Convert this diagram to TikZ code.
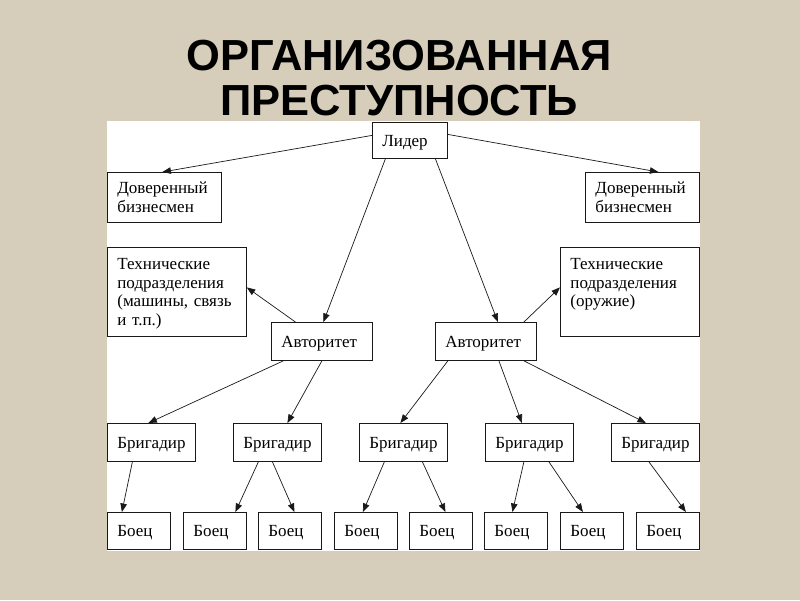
\documentclass[tikz,border=0pt]{standalone}
\usepackage{fontspec}
\setmainfont{Liberation Serif}
\newfontfamily\titlefont{Liberation Sans}
\usepackage{tikz}
\usetikzlibrary{arrows.meta,positioning}
\usepackage{xcolor}
\definecolor{ocbeige}{RGB}{214,205,186}
\definecolor{ocline}{RGB}{25,25,25}
\tikzstyle{box} = [rectangle, anchor=north west, draw=ocline, fill=white, line width=0.8pt, align=left, inner xsep=10pt, inner ysep=0pt, text height=11.5pt, text depth=0pt, font=\fontsize{17}{18.5}\selectfont]
\tikzstyle{leader} = [box, text width=55pt, minimum height=36pt]
\tikzstyle{trusted} = [box, text width=94pt, minimum height=50pt, text depth=18.5pt]
\tikzstyle{tech} = [box, text width=119pt, minimum height=89pt, text depth=56pt]
\tikzstyle{boss} = [box, text width=81pt, minimum height=38pt]
\tikzstyle{brigadier} = [box, text width=68pt, minimum height=38pt]
\tikzstyle{fighter} = [box, text width=43pt, minimum height=37pt]
\tikzstyle{arrow} = [line width=0.7pt, ->, >={Triangle[length=8.5pt,width=6.5pt]}, color=ocline]

\begin{document}
\begin{tikzpicture}[x=1pt, y=-1pt]
% Background and sheet
\fill[ocbeige] (0,0) rectangle (800,600);
\fill[white] (107,121) rectangle (700,551);
\useasboundingbox (0,0) rectangle (800,600);

% Title
\node (title) [align=center, inner sep=0pt, font=\titlefont\bfseries\fontsize{43.5}{45}\selectfont] at (399,78) {ОРГАНИЗОВАННАЯ\\ПРЕСТУПНОСТЬ};

% Top level
\node (lider) [leader] at (372,122) {Лидер};
\node (trustL) [trusted] at (107,172) {Доверенный\\бизнесмен};
\node (trustR) [trusted] at (585,172) {Доверенный\\бизнесмен};
\node (techL) [tech] at (107,247) {Технические\\подразделения\\(машины, связь\\и т.п.)};
\node (techR) [tech] at (560,247) {Технические\\подразделения\\(оружие)};

% Authorities
\node (avtL) [boss] at (271,322) {Авторитет};
\node (avtR) [boss] at (435,322) {Авторитет};

% Brigadiers
\node (br1) [brigadier] at (107,423) {Бригадир};
\node (br2) [brigadier] at (233,423) {Бригадир};
\node (br3) [brigadier] at (359,423) {Бригадир};
\node (br4) [brigadier] at (485,423) {Бригадир};
\node (br5) [brigadier] at (611,423) {Бригадир};

% Fighters
\node (f1) [fighter] at (107,512) {Боец};
\node (f2) [fighter] at (183,512) {Боец};
\node (f3) [fighter] at (258,512) {Боец};
\node (f4) [fighter] at (334,512) {Боец};
\node (f5) [fighter] at (409,512) {Боец};
\node (f6) [fighter] at (484,512) {Боец};
\node (f7) [fighter] at (560,512) {Боец};
\node (f8) [fighter] at (636,512) {Боец};

% Arrows from the leader
\draw[arrow] ([yshift=5pt]lider.west) -- ([xshift=-2pt]trustL.north);
\draw[arrow] ([yshift=6pt]lider.east) -- ([xshift=16pt]trustR.north);
\draw[arrow] ([xshift=-24.5pt]lider.south) -- ([xshift=1.5pt]avtL.north);
\draw[arrow] ([xshift=25.5pt]lider.south) -- ([xshift=12pt]avtR.north);

% Arrows from the authorities
\draw[arrow] ([xshift=-26.5pt]avtL.north) -- ([yshift=4.5pt]techL.east);
\draw[arrow] ([xshift=38pt]avtR.north) -- ([yshift=4.5pt]techR.west);
\draw[arrow] ([xshift=-38.5pt]avtL.south) -- ([xshift=-3pt]br1.north);
\draw[arrow] (avtL.south) -- ([xshift=10pt]br2.north);
\draw[arrow] ([xshift=-38pt]avtR.south) -- ([xshift=-3pt]br3.north);
\draw[arrow] ([xshift=13pt]avtR.south) -- ([xshift=-7.5pt]br4.north);
\draw[arrow] ([xshift=38pt]avtR.south) -- ([xshift=-9.5pt]br5.north);

% Arrows from the brigadiers
\draw[arrow] ([xshift=-19pt]br1.south) -- ([xshift=-17pt]f1.north);
\draw[arrow] ([xshift=-19pt]br2.south) -- ([xshift=20.5pt]f2.north);
\draw[arrow] ([xshift=-5pt]br2.south) -- ([xshift=4.5pt]f3.north);
\draw[arrow] ([xshift=-19pt]br3.south) -- ([xshift=-3pt]f4.north);
\draw[arrow] ([xshift=19pt]br3.south) -- ([xshift=4.5pt]f5.north);
\draw[arrow] ([xshift=-5.5pt]br4.south) -- ([xshift=-3.5pt]f6.north);
\draw[arrow] ([xshift=19.5pt]br4.south) -- ([xshift=-9pt]f7.north);
\draw[arrow] ([xshift=-6.5pt]br5.south) -- ([xshift=18pt]f8.north);
\end{tikzpicture}
\end{document}
